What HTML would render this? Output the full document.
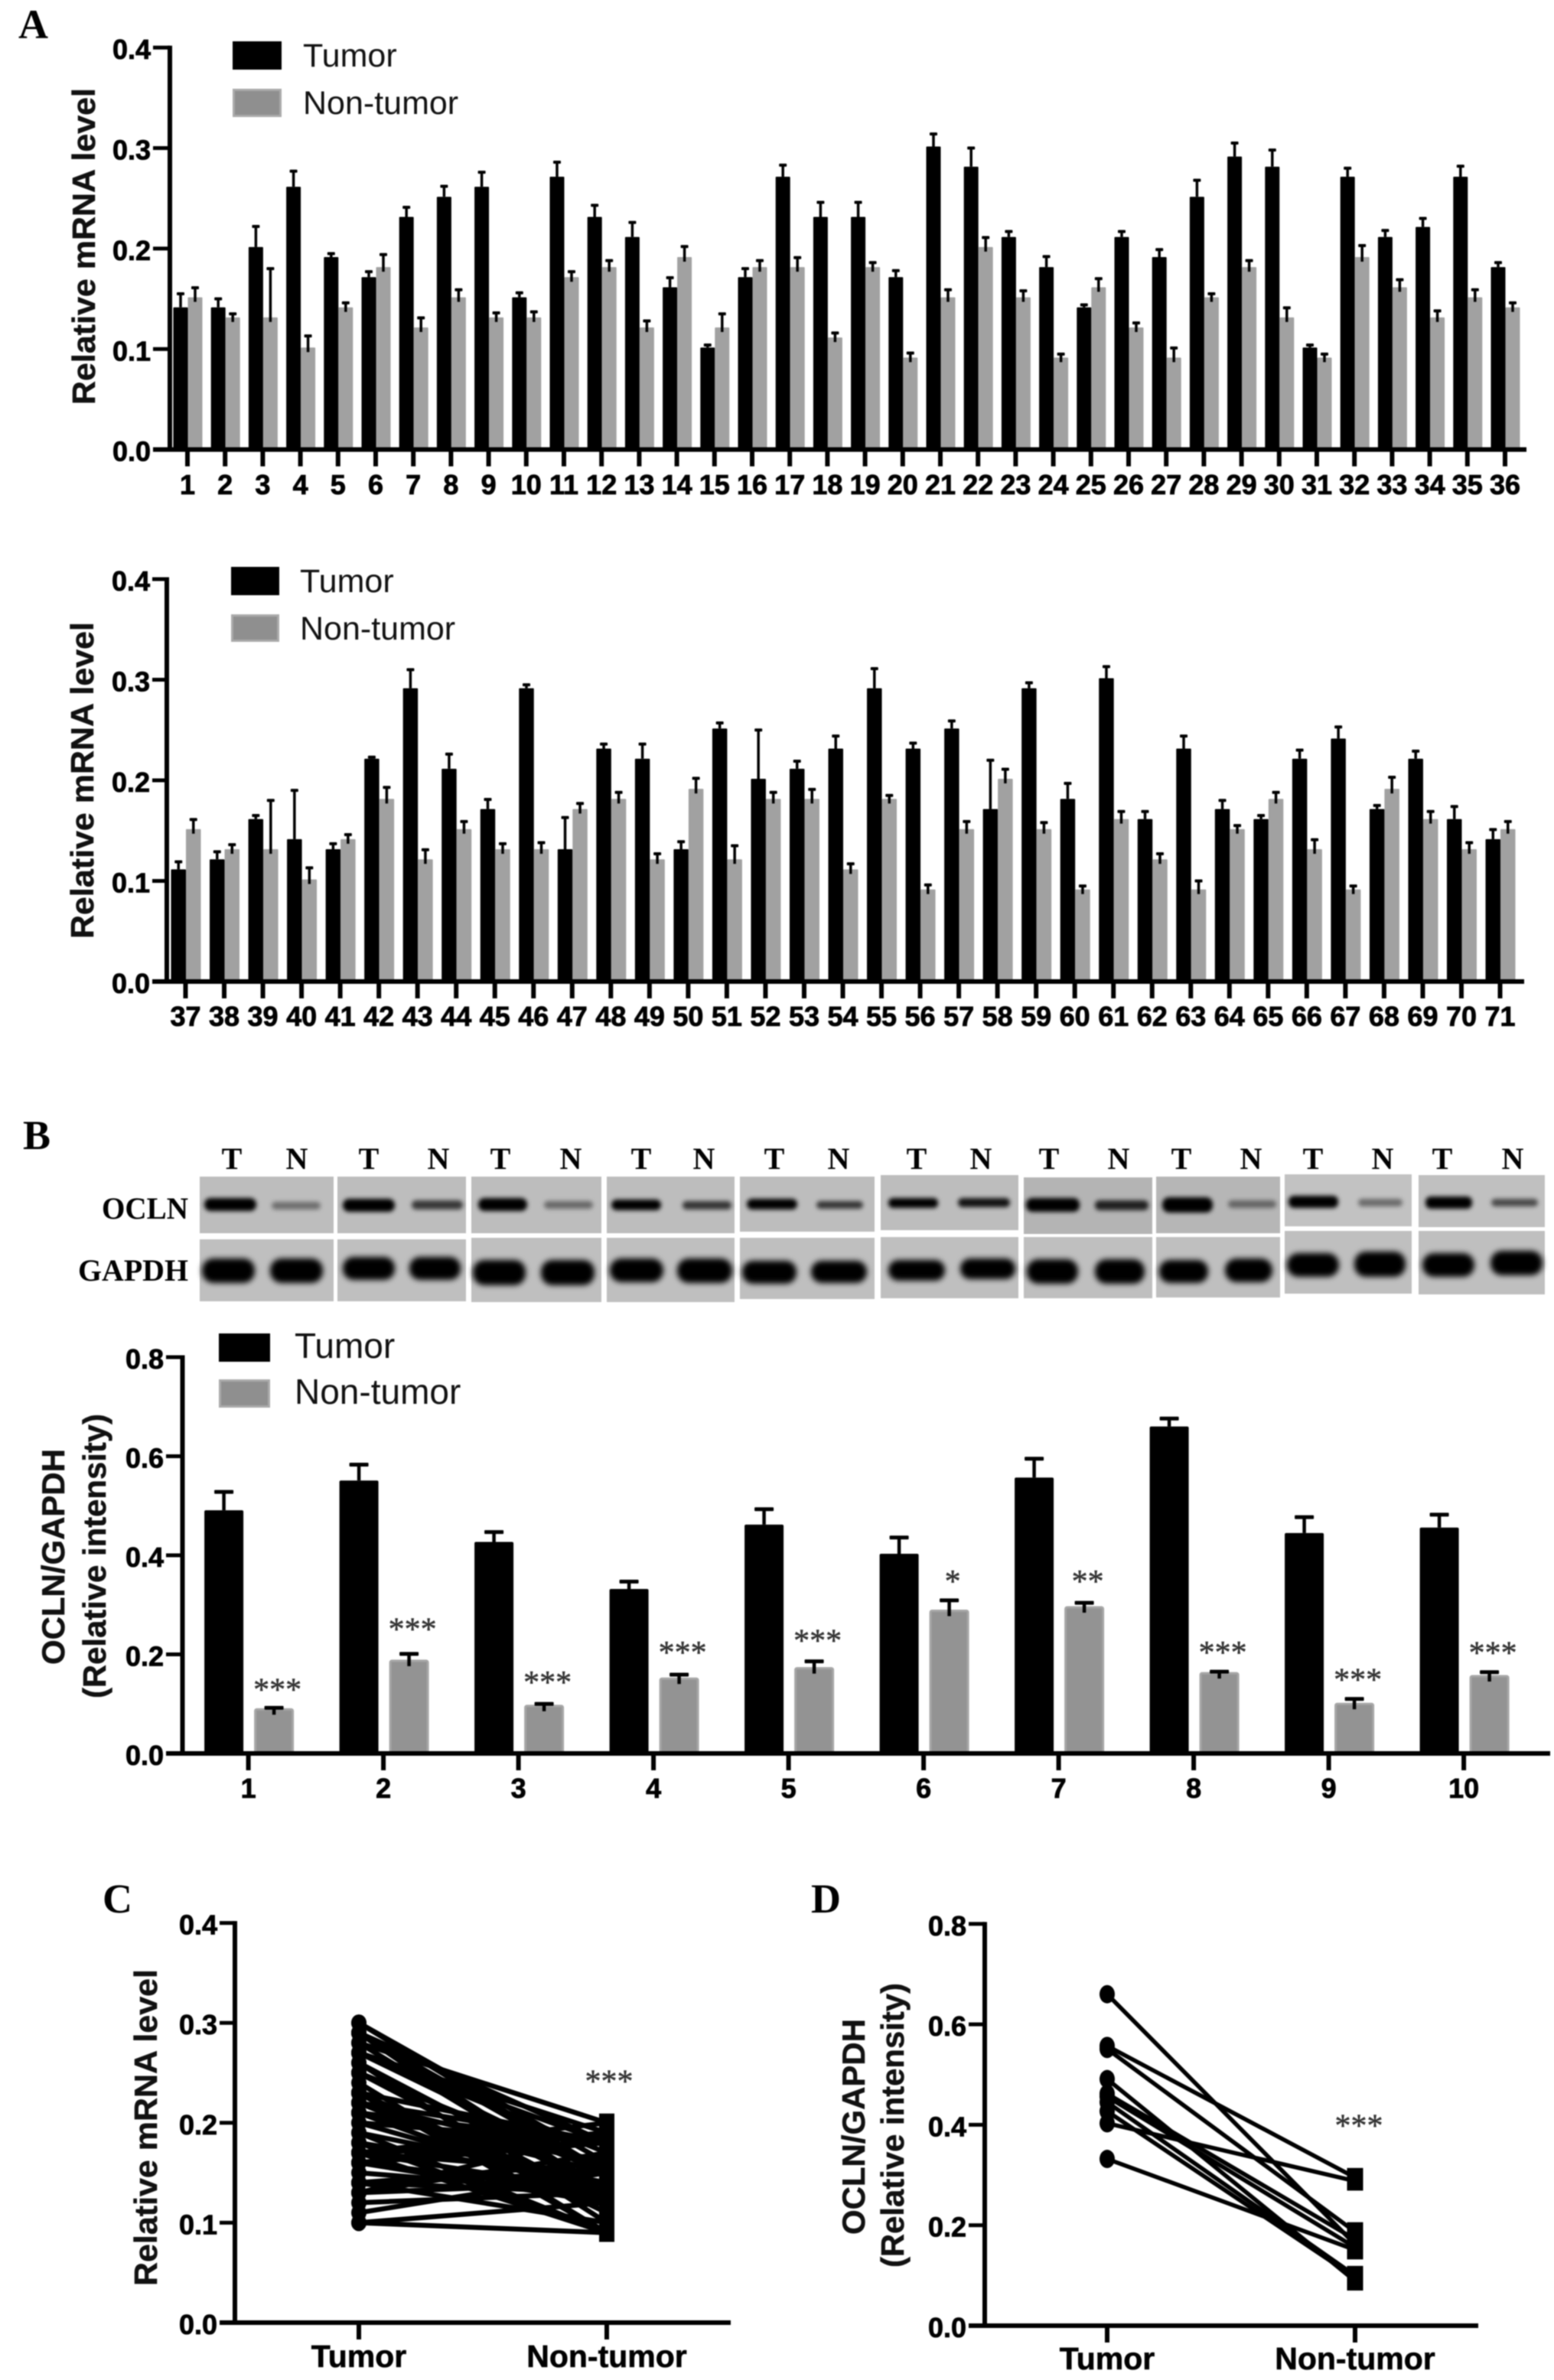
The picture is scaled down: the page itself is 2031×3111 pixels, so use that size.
<!DOCTYPE html>
<html lang="en">
<head>
<meta charset="utf-8">
<title>OCLN expression in tumor and non-tumor tissue</title>
<style>
  html, body { margin: 0; padding: 0; background: #fff; }
  svg { display: block; filter: blur(0.8px); }
  .panel-letter { font: bold 54px "Liberation Serif", serif; fill: #000; }
  .blot-label { font: bold 40px "Liberation Serif", serif; fill: #000; }
  .lane { font: bold 40px "Liberation Serif", serif; fill: #000; text-anchor: middle; }
  .legend-text { font: 43px "Liberation Sans", sans-serif; fill: #111; }
  .legend-text-b { font: 46px "Liberation Sans", sans-serif; fill: #111; }
  .axis-title { font: bold 42px "Liberation Sans", sans-serif; fill: #111; stroke: #111; stroke-width: .5px; text-anchor: middle; }
  .tick-label { font: bold 36px "Liberation Sans", sans-serif; fill: #000; stroke: #000; stroke-width: .8px; }
  .cat-label { font: bold 41px "Liberation Sans", sans-serif; fill: #000; stroke: #000; stroke-width: .6px; text-anchor: middle; }
  .stars { font: 42px "Liberation Serif", serif; fill: #333; stroke: #333; stroke-width: .5px; text-anchor: middle; }
</style>
</head>
<body>
<svg id="figure" xmlns="http://www.w3.org/2000/svg" width="2031" height="3111" viewBox="0 0 2031 3111">
  <defs>
    <filter id="blur-thin" x="-20%" y="-100%" width="140%" height="300%"><feGaussianBlur stdDeviation="3"/></filter>
    <filter id="blur-wide" x="-20%" y="-50%" width="140%" height="200%"><feGaussianBlur stdDeviation="3.6"/></filter>
  </defs>
  <rect width="2031" height="3111" fill="#fff"/>

  <text class="panel-letter" x="24" y="50">A</text>
  <text class="panel-letter" x="30" y="1502">B</text>
  <text class="panel-letter" x="134" y="2500">C</text>
  <text class="panel-letter" x="1060" y="2500">D</text>

  <!-- Panel A, top chart: static labels -->
  <text class="axis-title" transform="translate(124 322) rotate(-90)" textLength="414" lengthAdjust="spacingAndGlyphs">Relative mRNA level</text>
  <rect x="304" y="54" width="64" height="37" fill="#000"/>
  <text class="legend-text" x="396" y="87">Tumor</text>
  <rect x="305.500" y="117.500" width="61" height="34" fill="#8f8f8f" stroke="#aaa" stroke-width="3"/>
  <text class="legend-text" x="396" y="149">Non-tumor</text>

  <!-- Panel A, bottom chart: static labels -->
  <text class="axis-title" transform="translate(122 1020) rotate(-90)" textLength="414" lengthAdjust="spacingAndGlyphs">Relative mRNA level</text>
  <rect x="302" y="741" width="63" height="37" fill="#000"/>
  <text class="legend-text" x="392" y="774">Tumor</text>
  <rect x="303.500" y="804.500" width="60" height="33" fill="#8f8f8f" stroke="#aaa" stroke-width="3"/>
  <text class="legend-text" x="392" y="836">Non-tumor</text>

  <!-- Panel B blots -->
  <g>
    <text class="lane" x="303" y="1528">T</text>
    <text class="lane" x="388" y="1528">N</text>
    <text class="lane" x="482" y="1528">T</text>
    <text class="lane" x="573" y="1528">N</text>
    <text class="lane" x="654" y="1528">T</text>
    <text class="lane" x="746" y="1528">N</text>
    <text class="lane" x="838" y="1528">T</text>
    <text class="lane" x="920" y="1528">N</text>
    <text class="lane" x="1012" y="1528">T</text>
    <text class="lane" x="1096" y="1528">N</text>
    <text class="lane" x="1198" y="1528">T</text>
    <text class="lane" x="1282" y="1528">N</text>
    <text class="lane" x="1371" y="1528">T</text>
    <text class="lane" x="1462" y="1528">N</text>
    <text class="lane" x="1544" y="1528">T</text>
    <text class="lane" x="1635" y="1528">N</text>
    <text class="lane" x="1716" y="1528">T</text>
    <text class="lane" x="1807" y="1528">N</text>
    <text class="lane" x="1885" y="1528">T</text>
    <text class="lane" x="1977" y="1528">N</text>
  </g>
  <text class="blot-label" x="133" y="1593" textLength="113" lengthAdjust="spacingAndGlyphs">OCLN</text>
  <text class="blot-label" x="102" y="1674" textLength="144" lengthAdjust="spacingAndGlyphs">GAPDH</text>

  <g fill="#bdbdbd">
    <rect x="261" y="1538" width="175" height="74"/>
    <rect x="441" y="1538" width="168" height="74"/>
    <rect x="616" y="1538" width="170" height="74"/>
    <rect x="793" y="1538" width="167" height="74"/>
    <rect x="967" y="1538" width="176" height="72"/>
    <rect x="1151" y="1536" width="180" height="72"/>
    <rect x="1338" y="1539" width="168" height="74" fill="#b4b4b4"/>
    <rect x="1511" y="1538" width="162" height="74" fill="#b6b6b6"/>
    <rect x="1679" y="1535" width="166" height="68" fill="#c2c2c2"/>
    <rect x="1854" y="1536" width="165" height="68" fill="#c0c0c0"/>
  </g>
  <g fill="#bfbfbf">
    <rect x="261" y="1620" width="175" height="81"/>
    <rect x="441" y="1620" width="168" height="81"/>
    <rect x="616" y="1618" width="170" height="84"/>
    <rect x="793" y="1618" width="167" height="84"/>
    <rect x="967" y="1618" width="176" height="80"/>
    <rect x="1151" y="1617" width="180" height="80"/>
    <rect x="1338" y="1617" width="168" height="80"/>
    <rect x="1511" y="1617" width="162" height="79"/>
    <rect x="1679" y="1609" width="166" height="82"/>
    <rect x="1854" y="1609" width="165" height="83"/>
  </g>
  <g fill="#000" filter="url(#blur-thin)">
    <rect x="267" y="1566" width="68" height="17" rx="8"/>
    <rect x="355" y="1571" width="64" height="10" rx="5" opacity=".42"/>
    <rect x="448" y="1567" width="68" height="17" rx="8"/>
    <rect x="538" y="1569" width="67" height="12" rx="6" opacity=".7"/>
    <rect x="625" y="1566" width="64" height="17" rx="8"/>
    <rect x="711" y="1570" width="64" height="10" rx="5" opacity=".45"/>
    <rect x="799" y="1568" width="65" height="14" rx="7"/>
    <rect x="892" y="1570" width="64" height="11" rx="5" opacity=".72"/>
    <rect x="976" y="1567" width="66" height="14" rx="7"/>
    <rect x="1067" y="1570" width="61" height="10" rx="5" opacity=".72"/>
    <rect x="1161" y="1566" width="65" height="13" rx="6"/>
    <rect x="1252" y="1566" width="68" height="12" rx="6" opacity=".9"/>
    <rect x="1341" y="1566" width="70" height="18" rx="8"/>
    <rect x="1431" y="1569" width="70" height="13" rx="6" opacity=".82"/>
    <rect x="1519" y="1565" width="66" height="20" rx="9"/>
    <rect x="1605" y="1569" width="63" height="10" rx="5" opacity=".45"/>
    <rect x="1684" y="1563" width="65" height="16" rx="7"/>
    <rect x="1775" y="1567" width="58" height="10" rx="5" opacity=".45"/>
    <rect x="1863" y="1564" width="61" height="16" rx="7"/>
    <rect x="1949" y="1567" width="61" height="10" rx="5" opacity=".62"/>
  </g>
  <g fill="#000" filter="url(#blur-wide)">
    <rect x="264" y="1645" width="69" height="32" rx="15"/>
    <rect x="353" y="1645" width="69" height="32" rx="15"/>
    <rect x="448" y="1643" width="68" height="30" rx="14"/>
    <rect x="535" y="1643" width="67" height="30" rx="14"/>
    <rect x="618" y="1647" width="69" height="33" rx="15"/>
    <rect x="707" y="1647" width="70" height="33" rx="15"/>
    <rect x="797" y="1645" width="70" height="31" rx="15"/>
    <rect x="885" y="1645" width="72" height="32" rx="15"/>
    <rect x="970" y="1648" width="71" height="30" rx="14"/>
    <rect x="1060" y="1648" width="73" height="29" rx="14"/>
    <rect x="1161" y="1647" width="74" height="27" rx="13"/>
    <rect x="1255" y="1645" width="72" height="27" rx="13"/>
    <rect x="1342" y="1646" width="67" height="32" rx="15"/>
    <rect x="1431" y="1646" width="65" height="32" rx="15"/>
    <rect x="1515" y="1647" width="64" height="30" rx="14"/>
    <rect x="1601" y="1645" width="62" height="31" rx="15"/>
    <rect x="1682" y="1638" width="68" height="31" rx="15"/>
    <rect x="1770" y="1636" width="67" height="33" rx="15"/>
    <rect x="1859" y="1638" width="68" height="31" rx="15"/>
    <rect x="1948" y="1635" width="68" height="32" rx="15"/>
  </g>

  <!-- Panel B chart: static labels -->
  <text class="axis-title" transform="translate(84 2035) rotate(-90)" textLength="282" lengthAdjust="spacingAndGlyphs">OCLN/GAPDH</text>
  <text class="axis-title" transform="translate(138 2034) rotate(-90)" textLength="372" lengthAdjust="spacingAndGlyphs">(Relative intensity)</text>
  <rect x="286" y="1743" width="67" height="37" fill="#000"/>
  <text class="legend-text-b" x="385" y="1775">Tumor</text>
  <rect x="287.500" y="1804.500" width="64" height="34" fill="#8f8f8f" stroke="#aaa" stroke-width="3"/>
  <text class="legend-text-b" x="385" y="1835">Non-tumor</text>

  <!-- Panels C and D: static labels -->
  <text class="axis-title" transform="translate(205 2781) rotate(-90)" textLength="414" lengthAdjust="spacingAndGlyphs">Relative mRNA level</text>
  <text class="axis-title" transform="translate(1130 2780) rotate(-90)" textLength="282" lengthAdjust="spacingAndGlyphs">OCLN/GAPDH</text>
  <text class="axis-title" transform="translate(1181 2778) rotate(-90)" textLength="372" lengthAdjust="spacingAndGlyphs">(Relative intensity)</text>

  <g id="marks"></g>
</svg>

<script>
// ---------- Panel A, top chart ----------
const a1Categories = ['1','2','3','4','5','6','7','8','9','10','11','12','13','14','15','16','17','18','19','20','21','22','23','24','25','26','27','28','29','30','31','32','33','34','35','36'];
const a1Tumor = [.14,.14,.20,.26,.19,.17,.23,.25,.26,.15,.27,.23,.21,.16,.10,.17,.27,.23,.23,.17,.30,.28,.21,.18,.14,.21,.19,.25,.29,.28,.10,.27,.21,.22,.27,.18];
const a1NonTumor = [.15,.13,.13,.10,.14,.18,.12,.15,.13,.13,.17,.18,.12,.19,.12,.18,.18,.11,.18,.09,.15,.20,.15,.09,.16,.12,.09,.15,.18,.13,.09,.19,.16,.13,.15,.14];
const a1TumorErr = [.015,.010,.022,.017,.005,.007,.011,.012,.016,.006,.016,.013,.016,.011,.004,.010,.013,.016,.016,.008,.014,.020,.007,.012,.004,.007,.009,.018,.015,.018,.004,.010,.008,.010,.012,.006];
const a1NonTumorErr = [.011,.005,.050,.013,.006,.014,.011,.009,.006,.007,.007,.008,.008,.012,.015,.008,.011,.006,.006,.006,.009,.011,.008,.005,.010,.006,.011,.005,.008,.011,.005,.013,.009,.008,.009,.006];

// ---------- Panel A, bottom chart ----------
const a2Categories = ['37','38','39','40','41','42','43','44','45','46','47','48','49','50','51','52','53','54','55','56','57','58','59','60','61','62','63','64','65','66','67','68','69','70','71'];
const a2Tumor = [.11,.12,.16,.14,.13,.22,.29,.21,.17,.29,.13,.23,.22,.13,.25,.20,.21,.23,.29,.23,.25,.17,.29,.18,.30,.16,.23,.17,.16,.22,.24,.17,.22,.16,.14];
const a2NonTumor = [.15,.13,.13,.10,.14,.18,.12,.15,.13,.13,.17,.18,.12,.19,.12,.18,.18,.11,.18,.09,.15,.20,.15,.09,.16,.12,.09,.15,.18,.13,.09,.19,.16,.13,.15];
const a2TumorErr = [.009,.009,.005,.050,.007,.003,.020,.016,.011,.005,.033,.006,.016,.009,.007,.050,.009,.014,.021,.007,.009,.050,.007,.017,.013,.009,.014,.010,.005,.010,.013,.005,.009,.014,.011];
const a2NonTumorErr = [.011,.006,.050,.013,.006,.013,.011,.009,.007,.008,.007,.008,.007,.012,.015,.008,.011,.007,.005,.006,.009,.011,.008,.005,.009,.007,.010,.005,.008,.011,.005,.013,.009,.008,.009];

const aYTicks = [0, .1, .2, .3, .4];

// ---------- Panel B chart ----------
const bCategories = ['1','2','3','4','5','6','7','8','9','10'];
const bTumor = [.491,.551,.427,.332,.462,.403,.557,.660,.445,.456];
const bNonTumor = [.089,.187,.096,.151,.172,.288,.295,.162,.100,.156];
const bTumorErr = [.037,.032,.020,.015,.031,.033,.038,.016,.032,.026];
const bNonTumorErr = [.003,.014,.004,.008,.014,.021,.009,.003,.010,.008];
const bStars = ['***','***','***','***','***','*','**','***','***','***'];
const bStarLevels = [.138,.260,.153,.213,.237,.357,.357,.213,.158,.212];
const bYTicks = [0, .2, .4, .6, .8];

// ---------- Panels C and D ----------
const pairedGroups = ['Tumor', 'Non-tumor'];
const cYTicks = [0, .1, .2, .3, .4];
const dYTicks = [0, .2, .4, .6, .8];
const cStars = ['***'];
const cStarLevel = [.246];
const dStars = ['***'];
const dStarLevel = [.4];

const NS = 'http://www.w3.org/2000/svg';
const root = document.getElementById('marks');

function make(tag, attrs, text) {
  const el = document.createElementNS(NS, tag);
  for (const k in attrs) el.setAttribute(k, attrs[k]);
  if (text !== undefined) el.textContent = text;
  root.appendChild(el);
  return el;
}

function drawYAxis(prefix, ticks, yOf, axisX, tickStart, labelEnd, y0) {
  ticks.forEach(function (t) {
    const tick = make('rect', { x: tickStart, y: yOf(t) - 2.5, width: axisX - tickStart, height: 5, fill: '#000' });
    
    
    const lab = make('text', { x: labelEnd, y: yOf(t) + 15, class: 'tick-label', 'text-anchor': 'end' }, t.toFixed(1));
    
    
  });
  const top = yOf(ticks[ticks.length - 1]);
  const axis = make('rect', { x: axisX - 3, y: top - 2.5, width: 6, height: y0 - top + 5, fill: '#000' });
  
  
}

function drawXAxisLine(prefix, xStart, xEnd, y0) {
  const axis = make('rect', { x: xStart, y: y0 - 3, width: xEnd - xStart, height: 6, fill: '#000' });
  
  
}

function drawXTick(prefix, x, y0, len, label, baseline, cls) {
  const tick = make('rect', { x: x - 3, y: y0, width: 6, height: len, fill: '#000' });
  
  
  const lab = make('text', { x: x, y: baseline, class: cls, 'text-anchor': 'middle' }, label);
  
  
}

function drawBar(prefix, kind, x, w, topY, y0, errTop, capW, capH, stemW, stemDip, fill, stroke, radius) {
  const bar = make('rect', { x: x, y: topY, width: w, height: y0 - topY, fill: fill, rx: radius });
  if (stroke) {
    bar.setAttribute('stroke', stroke);
    bar.setAttribute('stroke-width', '3');
  }
  
  
  const cx = x + w / 2;
  const stem = make('rect', { x: cx - stemW / 2, y: errTop, width: stemW, height: topY - errTop + stemDip, fill: '#000' });
  
  
  const cap = make('rect', { x: cx - capW / 2, y: errTop - capH / 2, width: capW, height: capH, fill: '#000', rx: 1 });
  
  
}

// The small bars carry a thin border that sits about 2px above the plotted value.
const smallBarBorder = 2;

function drawSmallBars(prefix, cats, tumor, non, tErr, nErr, xOf, yOf, y0, w, labelBaseline, tickLen) {
  cats.forEach(function (c, i) {
    const x = xOf(i);
    drawBar(prefix, 'tumor', x - w + .5, w, yOf(tumor[i]) - smallBarBorder, y0, yOf(tumor[i] + tErr[i]), 10, 4, 3.5, 0, '#000', null, 1);
    drawBar(prefix, 'non-tumor', x + .5, w, yOf(non[i]) - smallBarBorder, y0, yOf(non[i] + nErr[i]), 10, 4, 3.5, 6, '#a1a1a1', null, 1);
    drawXTick(prefix, x, y0, tickLen, c, labelBaseline, 'tick-label');
  });
}

// --- A1 ---
const xA1 = function (i) { return 245 + i * 49.2; };
const yA1 = function (v) { return 587.6 - v * 1313.5; };
drawSmallBars('a1', a1Categories, a1Tumor, a1NonTumor, a1TumorErr, a1NonTumorErr, xA1, yA1, 587.6, 19, 646, 22);
drawXAxisLine('a1', 200, 1995, 587.6);
drawYAxis('a1', aYTicks, yA1, 222, 200, 197, 587.6);

// --- A2 ---
const xA2 = function (i) { return 242.5 + i * 50.53; };
const yA2 = function (v) { return 1283 - v * 1315; };
drawSmallBars('a2', a2Categories, a2Tumor, a2NonTumor, a2TumorErr, a2NonTumorErr, xA2, yA2, 1283, 19.5, 1341, 22);
drawXAxisLine('a2', 199, 1992, 1283);
drawYAxis('a2', aYTicks, yA2, 218, 199, 196, 1283);

// --- B ---
const xB = function (i) { return 324.6 + i * 176.5; };
const yB = function (v) { return 2292 - v * 647.5; };
bCategories.forEach(function (c, i) {
  const x = xB(i);
  drawBar('b', 'tumor', x - 57.5, 51, yB(bTumor[i]), 2292, yB(bTumor[i] + bTumorErr[i]), 25, 5, 4.5, 0, '#000', null, 2);
  drawBar('b', 'non-tumor', x + 9, 49, yB(bNonTumor[i]), 2292, yB(bNonTumor[i] + bNonTumorErr[i]), 25, 5, 4.5, 7, '#939393', '#a6a6a6', 2);
  drawXTick('b', x, 2292, 22, c, 2350, 'tick-label');
  const st = make('text', { x: x + 38, y: yB(bStarLevels[i]) + 20, class: 'stars' }, bStars[i]);
  
  
});
drawXAxisLine('b', 217, 2026, 2292);
drawYAxis('b', bYTicks, yB, 238.5, 217, 214, 2292);

// --- C and D paired plots ---
function drawPaired(prefix, tumor, non, xT, xN, yOf, rx, ry, sqW, sqH, lw) {
  tumor.forEach(function (v, i) {
    const line = make('line', { x1: xT, y1: yOf(v), x2: xN, y2: yOf(non[i]), stroke: '#000', 'stroke-width': lw });
    
    
  });
  tumor.forEach(function (v) {
    const dot = make('ellipse', { cx: xT, cy: yOf(v), rx: rx, ry: ry, fill: '#000' });
    
    
  });
  non.forEach(function (v) {
    const sqr = make('rect', { x: xN - sqW / 2, y: yOf(v) - sqH / 2, width: sqW, height: sqH, fill: '#000' });
    
    
  });
}

const cX = function (i) { return 469 + i * 324; };
const yC = function (v) { return 3036 - v * 1306; };
drawPaired('c', a1Tumor.concat(a2Tumor), a1NonTumor.concat(a2NonTumor), cX(0), cX(1), yC, 10, 11, 20, 24, 6.5);
drawXAxisLine('c', 287, 955, 3036);
drawYAxis('c', cYTicks, yC, 307, 287, 284, 3036);
pairedGroups.forEach(function (g, i) {
  drawXTick('c', cX(i), 3036, 22, g, 3094, 'cat-label');
});
const cStarEl = make('text', { x: 796, y: yC(cStarLevel[0]) + 20, class: 'stars' }, cStars[0]);



const dX = function (i) { return 1447 + i * 324; };
const yD = function (v) { return 3040 - v * 656.5; };
drawPaired('d', bTumor, bNonTumor, dX(0), dX(1), yD, 10, 12, 21, 25, 5.5);
drawXAxisLine('d', 1266, 1932, 3040);
drawYAxis('d', dYTicks, yD, 1287, 1266, 1263, 3040);
pairedGroups.forEach(function (g, i) {
  drawXTick('d', dX(i), 3040, 22, g, 3097, 'cat-label');
});
const dStarEl = make('text', { x: 1776, y: yD(dStarLevel[0]) + 15, class: 'stars' }, dStars[0]);


</script>
</body>
</html>
